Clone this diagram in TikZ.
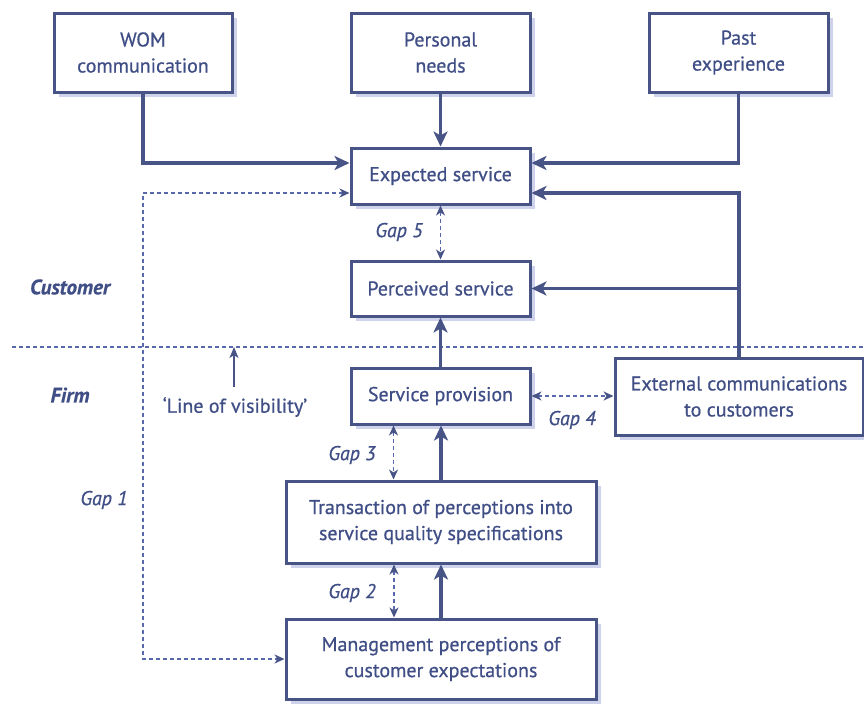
\documentclass[tikz,border=0pt]{standalone}
\usepackage{fontspec}
\setmainfont{PT Sans}[FakeBold=0.6]
\usetikzlibrary{arrows.meta,shadows}
\definecolor{mainc}{RGB}{72,84,134}
\definecolor{textc}{RGB}{64,78,134}
\definecolor{dashc}{RGB}{88,104,172}
\definecolor{shadc}{RGB}{206,210,234}
\begin{document}
\begin{tikzpicture}[x=1pt,y=-1pt,
  box/.style={draw=mainc, line width=3pt, fill=white, inner sep=0pt, align=center,
    text=textc, font=\fontsize{20}{26}\selectfont,
    drop shadow={shadow xshift=5pt,shadow yshift=-5pt,fill=shadc,opacity=1}},
  flow/.style={draw=mainc, line width=3.6pt, -{Stealth[length=15pt,width=14pt,inset=4pt]}},
  gaparrow/.style={draw=dashc, line width=1.5pt, dash pattern=on 4pt off 3pt,
    {Stealth[length=10pt,width=9pt,inset=3pt,color=mainc]}-{Stealth[length=10pt,width=9pt,inset=3pt,color=mainc]}},
  visline/.style={draw=dashc, line width=1.5pt, dash pattern=on 4pt off 3pt},
  thinarrow/.style={draw=mainc, line width=1.4pt, -{Stealth[length=11pt,width=9pt,inset=3pt]}},
  lbl/.style={text=textc, font=\fontsize{20}{24}\selectfont\itshape, inner sep=0pt},
  side/.style={text=textc, font=\fontsize{21}{24}\selectfont\bfseries\itshape, inner sep=0pt},
]
\fill[white] (0,0) rectangle (864,704);
\useasboundingbox (0,0) rectangle (864,704);

% line of visibility
\coordinate (vl) at (12,347);
\coordinate (vr) at (864,347);
\draw[visline] (vl) -- (vr);

% boxes
\node[box, minimum width=178pt, minimum height=79pt] (wom) at (143,52.5) {WOM\\communication};
\node[box, minimum width=179pt, minimum height=79pt] (pn) at (440.5,52.5) {Personal\\needs};
\node[box, minimum width=179pt, minimum height=79pt] (past) at (738.5,52.5) {Past\\experience};
\node[box, minimum width=179pt, minimum height=56pt] (exp) at (440.5,176) {Expected service};
\node[box, minimum width=179pt, minimum height=55pt] (perc) at (440.5,288.5) {Perceived service};
\node[box, minimum width=179pt, minimum height=56pt] (sp) at (440.5,396) {Service provision};
\node[box, minimum width=248pt, minimum height=77pt] (ext) at (739,396.5) {External communications\\to customers};
\node[box, minimum width=310pt, minimum height=82pt] (tr) at (441,522) {Transaction of perceptions into\\service quality specifications};
\node[box, minimum width=310pt, minimum height=80pt] (mg) at (441,659) {Management perceptions of\\customer expectations};

% solid flows
\draw[flow] (wom.south) |- ([yshift=13pt]exp.west);
\draw[flow] (past.south) |- ([yshift=13pt]exp.east);
\draw[flow] (pn.south) -- (exp.north);
\draw[flow] (ext.north) |- ([yshift=-17pt]exp.east);
\draw[flow] (ext.north |- perc.east) -- (perc.east);
\draw[flow] (sp.north) -- (perc.south);
\draw[flow] (tr.north) -- (tr.north |- sp.south);
\draw[flow] (mg.north) -- (tr.south);

% gaps
\draw[gaparrow] (exp.south) -- (perc.north);
\draw[gaparrow] ([xshift=-47pt]sp.south) -- ([xshift=-47pt]sp.south |- tr.north);
\draw[gaparrow] ([xshift=-47pt]tr.south) -- ([xshift=-47pt]tr.south |- mg.north);
\draw[gaparrow] (sp.east) -- (sp.east -| ext.west);
\coordinate (g1top) at (143,193);
\draw[gaparrow] ([yshift=-17pt]exp.west) -- (g1top) -- (mg.west -| g1top) -- (mg.west);

% line of visibility arrow
\coordinate (lvs) at (234,387);
\draw[thinarrow] (lvs) -- (lvs |- vl);
\node[text=textc, font=\fontsize{20}{24}\selectfont, inner sep=0pt] (lov) at (235,407) {`Line of visibility'};

% labels
\node[side] (cust) at (70,287) {Customer};
\node[side] (firm) at (70,395) {Firm};
\node[lbl] (gap1) at (104,500) {Gap 1};
\node[lbl] (gap5) at (399,232) {Gap 5};
\node[lbl] (gap3) at (352,455) {Gap 3};
\node[lbl] (gap2) at (352,593) {Gap 2};
\node[lbl] (gap4) at (572,420) {Gap 4};
\end{tikzpicture}
\end{document}
